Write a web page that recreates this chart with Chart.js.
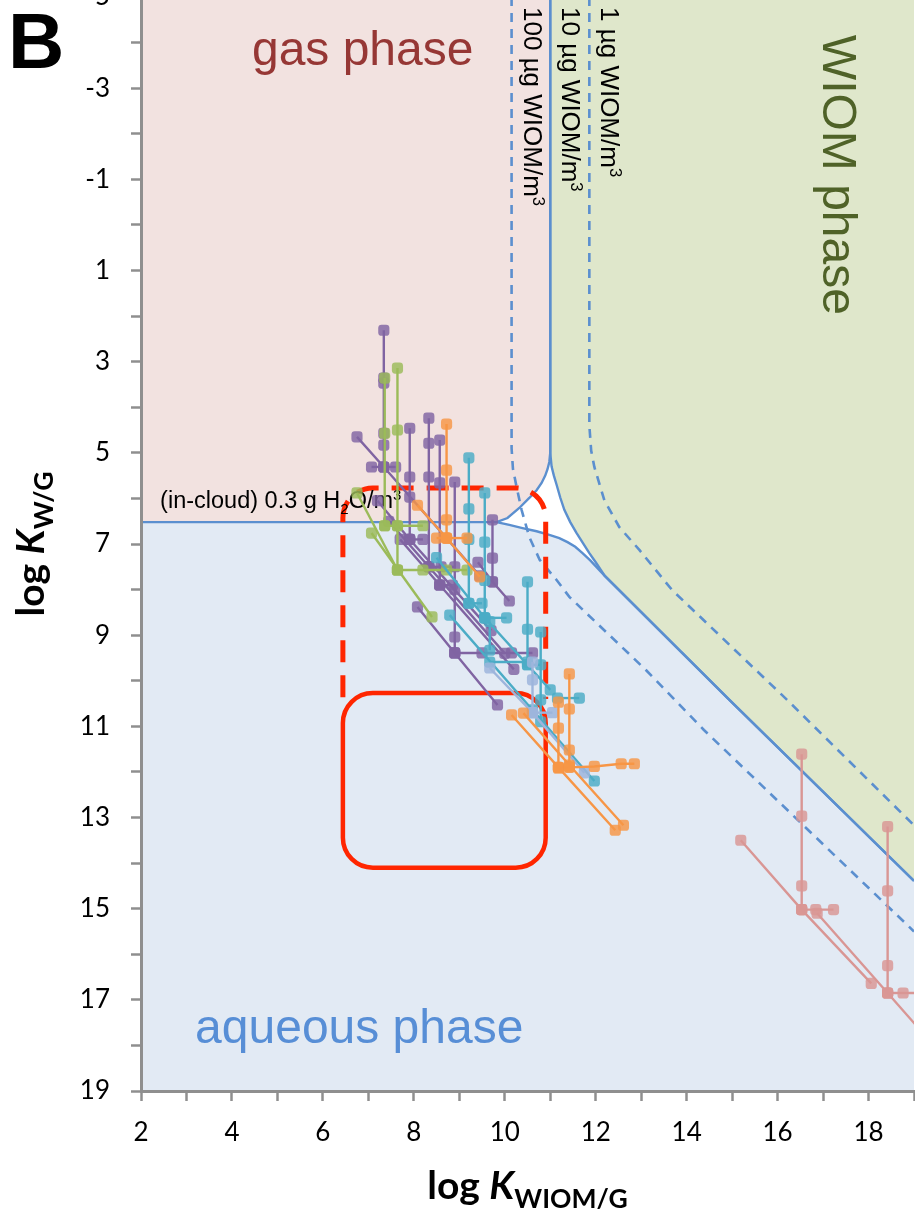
<!DOCTYPE html>
<html>
<head>
<meta charset="utf-8">
<style>
  html, body { margin: 0; padding: 0; background: #fff; width: 915px; height: 1222px; overflow: hidden; }
  #wrap { position: absolute; left: 0; top: -40px; width: 915px; height: 1262px; }
</style>
<script src="https://cdn.jsdelivr.net/npm/chart.js@4.4.1/dist/chart.umd.min.js"></script>
</head>
<body>
<div id="wrap"><canvas id="c" width="915" height="1262"></canvas></div>
<script>
// Axis ticks (every integer carries a tick mark, labels on alternate ones)
const X_TICKS = [2, 3, 4, 5, 6, 7, 8, 9, 10, 11, 12, 13, 14, 15, 16, 17, 18, 19];
const X_LABELED = [2, 4, 6, 8, 10, 12, 14, 16, 18];
const Y_TICKS = [-5, -4, -3, -2, -1, 0, 1, 2, 3, 4, 5, 6, 7, 8, 9, 10, 11, 12, 13, 14, 15, 16, 17, 18, 19];
const Y_LABELED = [-5, -3, -1, 1, 3, 5, 7, 9, 11, 13, 15, 17, 19];

// Phase boundaries (50 % lines) for 0.3 g H2O/m3 and 10 ug WIOM/m3
const GAS_EDGE = [[2, 6.52], [9.82, 6.52], [10.06, 6.43], [10.32, 6.21], [10.54, 5.99], [10.7, 5.82], [10.81, 5.66], [10.89, 5.5], [10.94, 5.36], [10.98, 5.2], [11.0, 5.0], [11.0, -5]];
const WIOM_EDGE = [[11.0, -5], [11.0, 5.0], [11.03, 5.3], [11.08, 5.5], [11.14, 5.7], [11.22, 5.98], [11.31, 6.25], [11.44, 6.52], [11.58, 6.76], [11.72, 6.98], [11.86, 7.2], [12.0, 7.4], [12.2, 7.7]];
const AQ_EDGE = [[9.82, 6.52], [10.1, 6.58], [10.39, 6.65], [10.7, 6.72], [10.98, 6.8], [11.2, 6.87], [11.38, 6.96], [11.55, 7.06], [11.71, 7.2], [11.88, 7.36], [12.04, 7.53], [12.2, 7.7]];
const DIAG = [[12.2, 7.7], [14.94, 10.42], [19, 14.39]];
// WIOM 50 % lines for 100 ug/m3 and 1 ug/m3
const WIOM_100 = [[10.15, -5], [10.15, 4.9], [10.18, 5.35], [10.26, 5.75], [10.37, 6.25], [10.54, 6.85], [10.77, 7.35], [11.14, 7.79], [11.42, 8.16], [13.11, 9.77], [14.38, 11.08], [19, 15.5]];
const WIOM_1 = [[11.86, -5], [11.86, 4.4], [11.9, 4.95], [11.97, 5.31], [12.19, 6.04], [12.52, 6.63], [12.96, 7.13], [13.68, 8.01], [16.21, 10.42], [19, 13.17]];

// Compound partitioning coefficients, one polyline per variation
const PURPLE_SERIES = [
  [[7.34, 2.31], [7.34, 3.36], [7.34, 3.47], [7.34, 4.57], [7.34, 4.83], [7.34, 5.31]],
  [[7.07, 5.31], [7.34, 5.31], [7.6, 5.31]],
  [[6.75, 4.65], [7.34, 5.31], [9.45, 7.7]],
  [[7.91, 4.46], [7.91, 5.53], [7.91, 5.97], [7.91, 6.9]],
  [[7.91, 6.9], [8.2, 6.9]],
  [[7.2, 6.05], [7.91, 6.9], [9.7, 8.9]],
  [[8.33, 4.24], [8.33, 4.79], [8.33, 5.53], [8.33, 7.5]],
  [[8.33, 7.5], [8.6, 7.5], [8.9, 7.5]],
  [[7.45, 6.5], [8.33, 7.5], [10.0, 9.4]],
  [[8.57, 4.72], [8.57, 5.66], [8.57, 7.9]],
  [[8.57, 7.9], [8.85, 7.9]],
  [[7.7, 6.9], [8.57, 7.9], [10.2, 9.75]],
  [[8.9, 5.64], [8.9, 8.0], [8.9, 9.04], [8.9, 9.39]],
  [[8.9, 9.39], [9.5, 9.39], [10.15, 9.39], [10.61, 9.39]],
  [[8.08, 8.38], [8.9, 9.39], [9.84, 10.53]],
  [[9.73, 6.47], [9.73, 7.31], [9.73, 7.83]],
  [[9.41, 7.4], [9.73, 7.83], [10.1, 8.25]]
];
const GREEN_SERIES = [
  [[7.36, 3.36], [7.36, 4.57], [7.36, 6.6]],
  [[7.36, 6.6], [7.64, 6.6], [8.2, 6.6]],
  [[7.64, 3.14], [7.64, 4.5], [7.64, 6.6], [7.64, 7.57]],
  [[7.64, 7.57], [8.2, 7.57], [8.72, 7.57], [9.17, 7.57]],
  [[6.75, 5.88], [7.64, 7.57]],
  [[7.07, 6.76], [8.4, 8.6]]
];
const TEAL_SERIES = [
  [[9.21, 5.11], [9.21, 6.23], [9.21, 6.9], [9.21, 8.3]],
  [[9.21, 8.3], [9.5, 8.3]],
  [[9.56, 5.88], [9.56, 6.96], [9.56, 7.8], [9.56, 8.62]],
  [[9.56, 8.62], [10.04, 8.62]],
  [[8.5, 7.3], [9.56, 8.62], [11.0, 10.2]],
  [[9.67, 8.7], [9.67, 9.33]],
  [[9.67, 9.59], [10.5, 9.59]],
  [[10.5, 7.83], [10.5, 8.87], [10.5, 9.65]],
  [[10.5, 9.65], [10.79, 9.65]],
  [[10.79, 8.93], [10.79, 10.42], [10.79, 10.9]],
  [[11.16, 10.38], [11.64, 10.38]],
  [[8.79, 8.56], [10.61, 10.64], [11.97, 12.2]]
];
const LAVENDER_SERIES = [
  [[10.61, 9.59], [10.61, 9.98], [10.61, 10.7]],
  [[10.61, 10.7], [11.05, 10.7]],
  [[9.67, 9.72], [10.61, 10.7], [11.75, 12.02]]
];
const ORANGE_SERIES = [
  [[8.72, 4.37], [8.72, 5.38], [8.72, 6.47], [8.72, 6.87]],
  [[8.5, 6.87], [8.72, 6.87], [9.17, 6.87]],
  [[8.08, 6.15], [8.72, 6.87], [9.45, 7.72]],
  [[11.42, 9.85], [11.42, 10.62], [11.42, 11.52], [11.42, 11.89]],
  [[11.18, 10.47], [11.18, 11.04], [11.18, 11.92]],
  [[11.18, 11.9], [11.42, 11.9], [11.97, 11.88], [12.56, 11.82], [12.85, 11.82]],
  [[10.15, 10.75], [11.18, 11.9], [12.43, 13.28]],
  [[10.41, 10.71], [11.42, 11.85], [12.61, 13.17]]
];
const PINK_SERIES = [
  [[16.53, 11.61], [16.53, 12.97], [16.53, 14.5], [16.53, 15.02]],
  [[16.53, 15.02], [16.84, 15.02], [17.23, 15.02]],
  [[15.19, 13.5], [16.53, 15.02], [18.06, 16.64]],
  [[18.42, 13.2], [18.42, 14.61], [18.42, 16.25], [18.42, 16.85]],
  [[18.42, 16.85], [18.76, 16.85], [19.15, 16.85]],
  [[16.87, 15.1], [18.42, 16.85], [19.3, 17.85]]
];

const BLUE_LINE = '#5B8FCF';
const pts = arr => arr.map(([x, y]) => ({ x, y }));

function region(poly, color) {
  return { data: pts(poly), showLine: true, fill: 'shape', backgroundColor: color,
           borderWidth: 0, pointRadius: 0, tension: 0, order: 30 };
}
function edge(line, dashed) {
  return { data: pts(line), showLine: true, fill: false, borderColor: BLUE_LINE,
           borderWidth: dashed ? 2.6 : 2.4, borderDash: dashed ? [9, 7] : [], pointRadius: 0, tension: 0, order: 20 };
}
function series(lines, line, marker, order) {
  return lines.map(l => ({ data: pts(l), showLine: true, fill: false, borderColor: line, borderWidth: 2.4,
    pointStyle: 'rectRounded', pointRadius: 6.5, pointBackgroundColor: marker, pointBorderWidth: 0,
    tension: 0, order }));
}

const datasets = [
  region([[2, -5], ...GAS_EDGE], '#F2E2E0'),
  region([...WIOM_EDGE, ...DIAG.slice(1), [19, -5]], '#DFE7CB'),
  region([[2, 6.52], ...AQ_EDGE, ...DIAG.slice(1), [19, 19], [2, 19]], '#E2EAF4'),
  { ...region([[19, 14.39], [19, 19.3]], 'rgba(0,0,0,0)'), fill: false, borderColor: BLUE_LINE, borderWidth: 2.4 },
  edge(GAS_EDGE), edge([...WIOM_EDGE, ...DIAG.slice(1)]), edge([...AQ_EDGE, ...DIAG.slice(1)]),
  edge(WIOM_100, true), edge(WIOM_1, true),
  { label: 'overlay', data: [], order: 16 },
  ...series(PURPLE_SERIES, '#8064A2', 'rgba(128,100,162,0.82)', 14),
  ...series(GREEN_SERIES, '#9BBB59', 'rgba(155,187,89,0.82)', 13),
  ...series(TEAL_SERIES, '#4BACC6', 'rgba(75,172,198,0.82)', 12),
  ...series(LAVENDER_SERIES, '#9DB5DC', 'rgba(157,181,220,0.85)', 11),
  ...series(ORANGE_SERIES, '#F79646', 'rgba(247,150,70,0.82)', 10),
  ...series(PINK_SERIES, '#D99694', 'rgba(217,150,148,0.82)', 10)
];

function drawRuns(ctx, runs, x, y, size, family, weight, subScale) {
  const sc = subScale || 0.64;
  let cx = x;
  for (const r of runs) {
    const s = (r.sub || r.sup) ? size * sc : size;
    ctx.font = `${r.italic ? 'italic ' : ''}${weight || 'normal'} ${s}px ${family}`;
    const dy = r.sub ? size * 0.24 : r.sup ? -size * 0.36 : 0;
    ctx.fillText(r.t, cx, y + dy);
    cx += ctx.measureText(r.t).width;
  }
  return cx - x;
}
function runsWidth(ctx, runs, size, family, weight, subScale) {
  const sc = subScale || 0.64;
  let w = 0;
  for (const r of runs) {
    const s = (r.sub || r.sup) ? size * sc : size;
    ctx.font = `${r.italic ? 'italic ' : ''}${weight || 'normal'} ${s}px ${family}`;
    w += ctx.measureText(r.t).width;
  }
  return w;
}
function roundedOpen(ctx, l, t, r, bl, br, rad) {
  ctx.beginPath();
  ctx.moveTo(l, bl);
  ctx.lineTo(l, t + rad);
  ctx.arcTo(l, t, l + rad, t, rad);
  ctx.lineTo(r - rad, t);
  ctx.arcTo(r, t, r, t + rad, rad);
  ctx.lineTo(r, br);
}
function roundedBox(ctx, l, t, r, b, rad) {
  ctx.beginPath();
  ctx.moveTo(l + rad, t);
  ctx.arcTo(r, t, r, b, rad);
  ctx.arcTo(r, b, l, b, rad);
  ctx.arcTo(l, b, l, t, rad);
  ctx.arcTo(l, t, r, t, rad);
  ctx.closePath();
}

const overlayPlugin = {
  id: 'phaseOverlay',
  afterDatasetDraw(chart, args) {
    if (chart.data.datasets[args.index].label !== 'overlay') return;
    const ctx = chart.ctx, X = v => chart.scales.x.getPixelForValue(v), Y = v => chart.scales.y.getPixelForValue(v);
    ctx.save();
    // highlighted ranges
    ctx.strokeStyle = '#FF2600';
    ctx.lineWidth = 5;
    ctx.setLineDash([22, 13]);
    roundedOpen(ctx, X(6.44), Y(5.77), X(10.9), Y(10.36), Y(10.4), 30);
    ctx.stroke();
    ctx.setLineDash([]);
    ctx.lineWidth = 4.5;
    roundedBox(ctx, X(6.44), Y(10.27), X(10.9), Y(14.1), 30);
    ctx.stroke();

    ctx.textBaseline = 'alphabetic';
    ctx.textAlign = 'left';
    // phase names
    ctx.fillStyle = '#963735';
    ctx.font = '48px "Liberation Sans", Arial, sans-serif';
    ctx.fillText('gas phase', X(4.44), Y(-3.51));
    ctx.fillStyle = '#578ED6';
    ctx.fillText('aqueous phase', X(3.19), Y(17.95));
    ctx.save();
    ctx.translate(X(17.0), Y(-4.17));
    ctx.rotate(Math.PI / 2);
    ctx.fillStyle = '#4F6228';
    ctx.fillText('WIOM phase', 0, 0);
    ctx.restore();

    // line annotations
    ctx.fillStyle = '#000';
    const fam = '"Liberation Sans", Arial, sans-serif';
    drawRuns(ctx, [{ t: '(in-cloud) 0.3 g H' }, { t: '2', sub: true }, { t: 'O/m' }, { t: '3', sup: true }], X(2.42), Y(6.21), 23.5, fam);
    const loads = [['100 µg WIOM/m', 10.42], ['10 µg WIOM/m', 11.25], ['1 µg WIOM/m', 12.11]];
    for (const [txt, xv] of loads) {
      ctx.save();
      ctx.translate(X(xv), Y(-4.78));
      ctx.rotate(Math.PI / 2);
      drawRuns(ctx, [{ t: txt }, { t: '3', sup: true }], 0, 0, 26, fam);
      ctx.restore();
    }
    ctx.restore();
  },
  afterDraw(chart) {
    const ctx = chart.ctx, a = chart.chartArea;
    ctx.save();
    ctx.fillStyle = '#000';
    ctx.textBaseline = 'alphabetic';
    ctx.textAlign = 'left';
    ctx.font = 'bold 78px "Liberation Sans", Arial, sans-serif';
    ctx.fillText('B', 8, 108);
    const fam = 'Lato, "Liberation Sans", sans-serif';
    const xt = [{ t: 'log ' }, { t: 'K', italic: true }, { t: 'WIOM/G', sub: true }];
    const xw = runsWidth(ctx, xt, 39, fam, 'bold', 0.68);
    drawRuns(ctx, xt, (a.left + a.right) / 2 - xw / 2, a.bottom + 108, 39, fam, 'bold', 0.68);
    const yt = [{ t: 'log ' }, { t: 'K', italic: true }, { t: 'W/G', sub: true }];
    const yw = runsWidth(ctx, yt, 39, fam, 'bold', 0.68);
    ctx.translate(a.left - 97, (a.top + a.bottom) / 2);
    ctx.rotate(-Math.PI / 2);
    drawRuns(ctx, yt, -yw / 2, 0, 39, fam, 'bold', 0.68);
    ctx.restore();
  }
};

const AXIS_GRAY = '#8F8F8F';
new Chart(document.getElementById('c'), {
  type: 'scatter',
  data: { datasets },
  options: {
    responsive: false,
    animation: false,
    devicePixelRatio: 1,
    layout: { autoPadding: false, padding: { top: 37, right: 1, bottom: 0, left: 0 } },
    plugins: { legend: { display: false }, tooltip: { enabled: false } },
    scales: {
      x: {
        type: 'linear', min: 2, max: 19, position: 'bottom',
        afterBuildTicks: s => { s.ticks = X_TICKS.map(v => ({ value: v })); },
        afterFit: s => { s.height = 131; s.paddingLeft = 0; s.paddingRight = 0; },
        grid: { drawOnChartArea: false, drawTicks: true, tickLength: 10, tickWidth: 2.5, tickColor: AXIS_GRAY, z: 1 },
        border: { display: true, color: AXIS_GRAY, width: 3, z: 1 },
        ticks: { autoSkip: false, maxRotation: 0, padding: 16, color: '#000',
                 font: { family: 'Lato', size: 26 },
                 callback: v => X_LABELED.includes(v) ? String(v) : '' }
      },
      y: {
        type: 'linear', min: -5, max: 19, reverse: true,
        afterBuildTicks: s => { s.ticks = Y_TICKS.map(v => ({ value: v })); },
        afterFit: s => { s.width = 141; s.paddingTop = 0; s.paddingBottom = 0; },
        grid: { drawOnChartArea: false, drawTicks: true, tickLength: 10, tickWidth: 2.5, tickColor: AXIS_GRAY, z: 1 },
        border: { display: true, color: AXIS_GRAY, width: 3, z: 1 },
        ticks: { autoSkip: false, padding: 21, color: '#000',
                 font: { family: 'Lato', size: 26 },
                 callback: v => Y_LABELED.includes(v) ? String(v) : '' }
      }
    }
  },
  plugins: [overlayPlugin]
});
</script>
</body>
</html>
